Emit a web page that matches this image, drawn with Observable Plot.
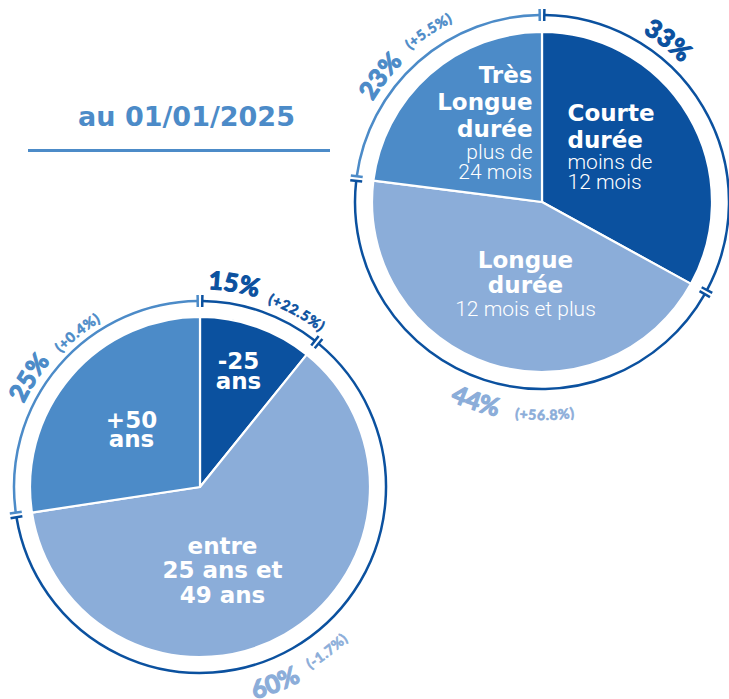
<!DOCTYPE html>
<html><head><meta charset="utf-8">
<script src="https://cdn.jsdelivr.net/npm/d3@7"></script>
<script src="https://cdn.jsdelivr.net/npm/@observablehq/plot@0.6"></script>
<style>html,body{margin:0;padding:0;background:#fff;overflow:hidden} #chart svg{display:block}</style>
</head><body><div id="chart"></div>
<script>
// ---- data ----
const durationCategories = ["Courte durée", "Longue durée", "Très Longue durée"];
const durationShares = [33, 44, 23];
const durationPercentLabels = ["33%", "44%", "23%"];
const durationChangeLabels = ["", "(+56.8%)", "(+5.5%)"];
const durationTitleLines = [["Courte", "durée"], ["Longue", "durée"], ["Très", "Longue", "durée"]];
const durationNoteLines = [["moins de", "12 mois"], ["12 mois et plus"], ["plus de", "24 mois"]];

const ageCategories = ["-25 ans", "entre 25 ans et 49 ans", "+50 ans"];
const ageShares = [10.8, 61.8, 27.4]; // slice sizes as drawn in the picture
const agePercentLabels = ["15%", "60%", "25%"];
const ageChangeLabels = ["(+22.5%)", "(-1.7%)", "(+0.4%)"];
const ageTitleLines = [["-25", "ans"], ["entre", "25 ans et", "49 ans"], ["+50", "ans"]];
const ageNoteLines = [[], [], []];

const dateLabel = "au 01/01/2025";

// ---- layout & style ----
const palette = {dark: "#0b519f", mid: "#4c8bc8", light: "#8badd9"};
const ringTone = {dark: "dark", light: "dark", mid: "mid"};
const BOLD = "'DejaVu Sans', sans-serif";
const LIGHT = "Roboto, 'Open Sans', sans-serif";
const PCT = "Lato, 'DejaVu Sans', sans-serif";

const pies = [
  {
    shares: durationShares, pct: durationPercentLabels, chg: durationChangeLabels,
    titles: durationTitleLines, notes: durationNoteLines,
    cx: 542, cy: 202, r: 169, ring: 187, tones: ["dark", "light", "mid"],
    pctPos: [[38, 10], [198.3, 32], [308, 10]],
    chgPos: [null, [179.2, 31], [326.5, 14]],
    labelPos: [
      {x: 567, anchor: "start", y: 120, lh: 27, noteGap: 21, noteLh: 20},
      {x: 525, anchor: "middle", y: 267, lh: 25, noteGap: 23, noteLh: 20},
      {x: 532, anchor: "end", y: 82, lh: 27, noteGap: 22, noteLh: 20}
    ]
  },
  {
    shares: ageShares, pct: agePercentLabels, chg: ageChangeLabels,
    titles: ageTitleLines, notes: ageNoteLines,
    cx: 200, cy: 487, r: 169, ring: 186, tones: ["dark", "light", "mid"],
    pctPos: [[9.6, 12], [159, 33], [302.7, 9]],
    chgPos: [[29, 10], [142.3, 27], [321.6, 7]],
    labelPos: [
      {x: 238, anchor: "middle", y: 368, lh: 20},
      {x: 222, anchor: "middle", y: 553, lh: 24.5},
      {x: 131, anchor: "middle", y: 427, lh: 19}
    ]
  }
];

const rad = a => a * Math.PI / 180;
function arcD(cx, cy, r, a0, a1) {
  const p = a => [cx + r * Math.sin(rad(a)), cy - r * Math.cos(rad(a))];
  const [x0, y0] = p(a0), [x1, y1] = p(a1);
  const sweep = a1 > a0 ? 1 : 0;
  const large = Math.abs(a1 - a0) > 180 ? 1 : 0;
  return `M${x0},${y0}A${r},${r} 0 ${large} ${sweep} ${x1},${y1}`;
}

function pieMark(p, pi) {
  return (index, scales) => {
    const sx = scales.x || (v => v), sy = scales.y || (v => v);
    const cx = sx(p.cx), cy = sy(p.cy);
    const k = sx(p.cx + 100) - sx(p.cx);
    const R = p.r * k / 100, RR = p.ring * k / 100;
    const arcs = d3.pie().sort(null).value(d => d)(p.shares);
    const g = d3.create("svg:g");
    const defs = g.append("defs");
    // slices
    g.append("g").attr("transform", `translate(${cx},${cy})`)
      .selectAll("path").data(arcs).join("path")
      .attr("d", d3.arc().innerRadius(0).outerRadius(R + 1))
      .attr("fill", (d, i) => palette[p.tones[i]])
      .attr("stroke", "white").attr("stroke-width", 2.2).attr("stroke-linejoin", "round");
    // ring arcs with end caps
    arcs.forEach((d, i) => {
      const col = palette[ringTone[p.tones[i]]];
      const dlt = (2.3 / RR) * 180 / Math.PI;
      const a0 = d.startAngle * 180 / Math.PI + dlt, a1 = d.endAngle * 180 / Math.PI - dlt;
      g.append("path").attr("d", arcD(cx, cy, RR, a0, a1))
        .attr("fill", "none").attr("stroke", col).attr("stroke-width", 2.5);
      [a0, a1].forEach(a => {
        g.append("line")
          .attr("x1", cx + (RR - 6) * Math.sin(rad(a))).attr("y1", cy - (RR - 6) * Math.cos(rad(a)))
          .attr("x2", cx + (RR + 6) * Math.sin(rad(a))).attr("y2", cy - (RR + 6) * Math.cos(rad(a)))
          .attr("stroke", col).attr("stroke-width", 2.5);
      });
    });
    // curved labels
    const curved = (txt, pos, id, opts, color) => {
      if (!txt || !pos) return;
      const [ang, off] = pos;
      const rb = RR + off * k / 100;
      const bottom = ang > 90 && ang < 270;
      const d = bottom ? arcD(cx, cy, rb, ang + 70, ang - 70) : arcD(cx, cy, rb, ang - 70, ang + 70);
      defs.append("path").attr("id", id).attr("d", d);
      g.append("text")
        .attr("font-family", opts.family).attr("font-weight", opts.weight)
        .attr("font-size", opts.size).attr("letter-spacing", opts.ls || 0)
        .attr("fill", color).attr("stroke", color).attr("stroke-width", opts.sw)
        .attr("stroke-linejoin", "round")
        .append("textPath").attr("href", "#" + id).attr("startOffset", "50%")
        .attr("text-anchor", "middle").text(txt);
    };
    arcs.forEach((d, i) => {
      const col = palette[p.tones[i]];
      curved(p.pct[i], p.pctPos[i], `p${pi}pct${i}`, {family: PCT, weight: 700, size: 25, ls: 0.3, sw: 1.2}, col);
      curved(p.chg[i], p.chgPos[i], `p${pi}chg${i}`, {family: PCT, weight: 700, size: 14, ls: 0.7, sw: 0.6}, col);
    });
    return g.node();
  };
}

// label rows for slice titles and notes
const labelRows = [];
pies.forEach(p => {
  p.titles.forEach((lines, i) => {
    const L = p.labelPos[i];
    lines.forEach((t, j) => labelRows.push({x: L.x, y: L.y + j * L.lh, text: t, anchor: L.anchor, kind: "bold"}));
    const last = L.y + (lines.length - 1) * L.lh;
    (p.notes[i] || []).forEach((t, j) => labelRows.push({x: L.x, y: last + L.noteGap + j * L.noteLh, text: t, anchor: L.anchor, kind: "light"}));
  });
});

const textMarks = [];
for (const anchor of ["start", "middle", "end"]) {
  textMarks.push(Plot.text(labelRows.filter(d => d.kind === "bold" && d.anchor === anchor), {
    x: "x", y: "y", text: "text", textAnchor: anchor, lineAnchor: "bottom",
    fill: "white", fontFamily: BOLD, fontWeight: 700, fontSize: 23
  }));
  textMarks.push(Plot.text(labelRows.filter(d => d.kind === "light" && d.anchor === anchor), {
    x: "x", y: "y", text: "text", textAnchor: anchor, lineAnchor: "bottom",
    fill: "white", fontFamily: LIGHT, fontWeight: 300, fontSize: 21
  }));
}

const chart = Plot.plot({
  width: 729, height: 699, margin: 0,
  x: {domain: [0, 729], range: [0, 729], axis: null},
  y: {domain: [0, 699], range: [0, 699], axis: null},
  style: {background: "white", overflow: "hidden"},
  marks: [
    pieMark(pies[0], 0),
    pieMark(pies[1], 1),
    ...textMarks,
    Plot.ruleY([{y: 150, x1: 28, x2: 330}], {y: "y", x1: "x1", x2: "x2", stroke: palette.mid, strokeWidth: 3}),
    Plot.text([{x: 186, y: 125, text: dateLabel}], {
      x: "x", y: "y", text: "text", lineAnchor: "bottom", textAnchor: "middle",
      fill: palette.mid, fontFamily: BOLD, fontWeight: 700, fontSize: 27
    })
  ]
});
document.getElementById("chart").appendChild(chart);
</script>
</body></html>
